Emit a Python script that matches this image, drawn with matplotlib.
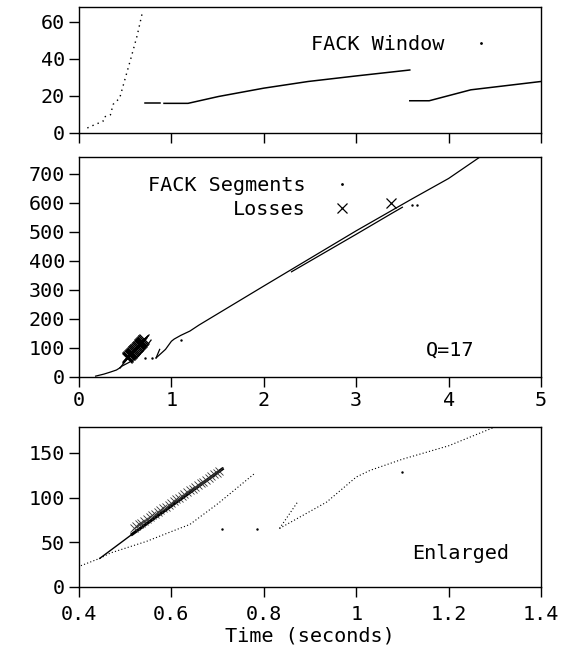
import matplotlib
matplotlib.use("Agg")
import matplotlib.pyplot as plt
from matplotlib.lines import Line2D

plt.rcParams['font.family'] = ['DejaVu Sans Mono']
FS = 14.5
plt.rcParams['font.size'] = FS

# ---- FACK window (segments) ----
win_ss_t = [0.09, 0.17, 0.26, 0.27, 0.34, 0.37, 0.44, 0.49, 0.56, 0.63, 0.69]
win_ss_v = [2.7, 4.5, 6.3, 8.6, 9.8, 15.5, 18.8, 27.7, 40, 52.7, 66]
win_a_t = [0.71, 0.88]
win_a_v = [16, 16]
win_b_t = [0.92, 1.18, 1.51, 2.0, 2.48, 3.0, 3.58]
win_b_v = [16, 16, 19.7, 24.2, 27.8, 30.8, 34]
win_c_t = [3.58, 3.79, 4.24, 5.0]
win_c_v = [17.4, 17.4, 23.3, 27.8]

# ---- FACK segments ----
ss_t = [0.18, 0.27, 0.34, 0.405, 0.445]
ss_seq = [3, 10, 17, 24, 32]
burst_t = [0.445, 0.515, 0.71]
burst_seq = [32, 59, 132]
low_t = [0.445, 0.468, 0.546, 0.60, 0.64, 0.70, 0.78]
low_seq = [32, 38, 51, 62, 70, 93, 127]
stray_t = [0.71, 0.786, 1.10, 3.60, 3.66]
stray_seq = [65, 65, 128.5, 592, 592]
rtx_t = [0.834, 0.873]
rtx_seq = [65.5, 95]
rec_t = [0.834, 0.936, 1.0, 1.03, 1.1, 1.2, 1.3, 2.0, 3.0, 3.6, 4.0, 4.34]
rec_seq = [65.5, 95, 123, 130.5, 143, 158, 179, 313, 503, 612, 683, 757]
rec2_t = [2.3, 3.0, 3.38, 3.5]
rec2_seq = [362, 491, 562, 584]

# ---- losses ----
loss_t = [0.518, 0.524, 0.530, 0.535, 0.541, 0.547, 0.553, 0.559, 0.564, 0.570,
          0.576, 0.582, 0.588, 0.594, 0.599, 0.605, 0.611, 0.617, 0.623, 0.628,
          0.634, 0.640, 0.646, 0.652, 0.657, 0.663, 0.669, 0.675, 0.681, 0.686,
          0.692, 0.698, 0.704, 3.38]
loss_seq = [66, 68, 70, 72, 74, 76, 78, 80, 82, 84,
            86, 88, 90, 92, 94, 96, 98, 100, 102, 104,
            106, 108, 110, 112, 114, 116, 118, 120, 122, 124,
            126, 128, 130, 597]

fig = plt.figure(figsize=(5.7, 6.5), dpi=100)
L, W = 0.1386, 0.8105
ax1 = fig.add_axes([L, 0.7954, W, 0.1938])
ax2 = fig.add_axes([L, 0.4200, W, 0.3385])
ax3 = fig.add_axes([L, 0.0970, W, 0.2460])

for ax in (ax1, ax2, ax3):
    for s in ax.spines.values():
        s.set_linewidth(1.0)
    ax.tick_params(direction='out', length=7, width=1.0, pad=3, labelsize=FS)
ax3.tick_params(axis='x', pad=6)

dot = (0, (1, 2))

# top panel
ax1.plot(win_ss_t, win_ss_v, color='k', lw=1.0, ls=(0, (1, 3)))
ax1.plot(win_a_t, win_a_v, color='k', lw=1.1)
ax1.plot(win_b_t, win_b_v, color='k', lw=1.1)
ax1.plot(win_c_t, win_c_v, color='k', lw=1.1)
ax1.set_xlim(0, 5)
ax1.set_ylim(0, 68)
ax1.set_yticks([0, 20, 40, 60])
ax1.set_xticks([0, 1, 2, 3, 4, 5])
ax1.set_xticklabels([])
h = Line2D([], [], color='k', marker='.', markersize=2, ls='none')
ax1.legend([h], ['FACK Window'], loc='upper right', bbox_to_anchor=(4.455, 53),
           bbox_transform=ax1.transData, frameon=False, markerfirst=False,
           borderpad=0, borderaxespad=0, handlelength=1.0, handletextpad=1.3,
           fontsize=FS)

# middle panel
for t, s in [(ss_t, ss_seq), (burst_t, burst_seq), (low_t, low_seq),
             (rtx_t, rtx_seq), (rec_t, rec_seq), (rec2_t, rec2_seq)]:
    ax2.plot(t, s, color='k', lw=0.9)
ax2.plot(stray_t, stray_seq, color='k', marker='.', markersize=1.5, ls='none')
ax2.plot(loss_t, loss_seq, color='k', marker='x', markersize=7, mew=0.9, ls='none')
ax2.set_xlim(0, 5)
ax2.set_ylim(0, 757)
ax2.set_yticks(range(0, 701, 100))
ax2.set_xticks([0, 1, 2, 3, 4, 5])
hs = Line2D([], [], color='k', marker='.', markersize=2, ls='none')
hl = Line2D([], [], color='k', marker='x', markersize=7, mew=0.9, ls='none')
ax2.legend([hs, hl], ['FACK Segments', 'Losses'], loc='upper right',
           bbox_to_anchor=(2.955, 692), bbox_transform=ax2.transData,
           frameon=False, markerfirst=False, borderpad=0, borderaxespad=0,
           handlelength=1.0, handletextpad=1.3, labelspacing=0.27,
           fontsize=FS)
ax2.text(4.28, 94, 'Q=17', ha='right', va='center', fontsize=FS)

# bottom panel (enlarged)
ax3.plot(ss_t, ss_seq, color='k', lw=0.8, ls=dot)
ax3.plot(burst_t, burst_seq, color='k', lw=1.0)
ax3.plot(burst_t[1:], burst_seq[1:], color='k', lw=2.2)
ax3.plot(low_t, low_seq, color='k', lw=0.8, ls=dot)
ax3.plot(rtx_t, rtx_seq, color='k', lw=0.8, ls=dot)
ax3.plot(rec_t, rec_seq, color='k', lw=0.8, ls=dot)
ax3.plot(stray_t, stray_seq, color='k', marker='.', markersize=1.5, ls='none')
ax3.plot(loss_t, loss_seq, color='#333333', marker='x', markersize=5.5, mew=0.6, ls='none')
ax3.set_xlim(0.4, 1.4)
ax3.set_ylim(0, 179)
ax3.set_yticks([0, 50, 100, 150])
ax3.set_xticks([0.4, 0.6, 0.8, 1.0, 1.2, 1.4])
ax3.set_xticklabels(['0.4', '0.6', '0.8', '1', '1.2', '1.4'])
ax3.text(1.33, 37.6, 'Enlarged', ha='right', va='center', fontsize=FS)
ax3.set_xlabel('Time (seconds)', fontsize=FS, labelpad=2)

fig.savefig('out.png', dpi=100)
